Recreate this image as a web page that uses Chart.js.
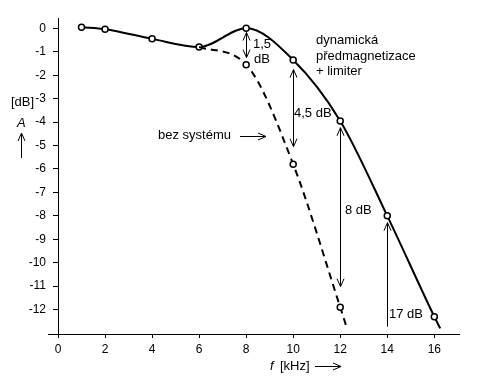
<!DOCTYPE html>
<html>
<head>
<meta charset="utf-8">
<script src="https://cdn.jsdelivr.net/npm/chart.js@4/dist/chart.umd.min.js"></script>
<style>
  body { margin: 0; background: #fff; }
  #wrap { width: 477px; height: 385px; }
</style>
</head>
<body>
<div id="wrap"><canvas id="chart" width="477" height="385"></canvas></div>
<script>
// frequencies in kHz, levels in dB
const solidFreq = [1, 2, 4, 6, 8, 10, 12, 14, 16, 16.25];
const solidLevel = [0.05, -0.04, -0.45, -0.8, 0, -1.35, -3.95, -8, -12.3, -12.8];
const dashedFreq = [6, 8, 10, 12, 12.27];
const dashedLevel = [-0.8, -1.55, -5.8, -11.9, -12.75];
// last entry of each curve is only the tail of the line, no marker
const solidMarkers = [1, 1, 1, 1, 1, 1, 1, 1, 1, 0];
const dashedMarkers = [0, 1, 1, 1, 0];

const xTicks = [0, 2, 4, 6, 8, 10, 12, 14, 16];
const yTicks = [0, -1, -2, -3, -4, -5, -6, -7, -8, -9, -10, -11, -12];

// difference arrows: [kHz, from dB, to dB, head at from, head at to]
const diffArrows = [
    [8, -0.18, -1.25, true, true],
    [10, -1.76, -5.05, true, true],
    [12, -4.24, -11.02, true, true],
    [14, -12.73, -8.29, false, true]
];

const FONT = '13px "Liberation Sans", Arial, sans-serif';

function arrowHead(ctx, x, y, dx, dy) {
    // open chevron pointing along (dx, dy)
    const len = 8, w = 3.5;
    ctx.beginPath();
    ctx.moveTo(x - dx * len - dy * w, y - dy * len + dx * w);
    ctx.lineTo(x, y);
    ctx.lineTo(x - dx * len + dy * w, y - dy * len - dx * w);
    ctx.stroke();
}

function arrow(ctx, x1, y1, x2, y2, headStart, headEnd) {
    ctx.beginPath();
    ctx.moveTo(x1, y1);
    ctx.lineTo(x2, y2);
    ctx.stroke();
    const d = Math.hypot(x2 - x1, y2 - y1);
    const dx = (x2 - x1) / d, dy = (y2 - y1) / d;
    if (headEnd) arrowHead(ctx, x2, y2, dx, dy);
    if (headStart) arrowHead(ctx, x1, y1, -dx, -dy);
}

const notes = {
    id: 'notes',
    afterDraw(chart) {
        const ctx = chart.ctx;
        const xs = chart.scales.x, ys = chart.scales.y;
        const area = chart.chartArea;
        ctx.save();
        ctx.strokeStyle = '#000';
        ctx.fillStyle = '#000';
        ctx.lineWidth = 1;

        // x axis line runs a bit left of the y axis
        ctx.beginPath();
        ctx.moveTo(48, Math.round(area.bottom) + 0.5);
        ctx.lineTo(area.left, Math.round(area.bottom) + 0.5);
        ctx.stroke();

        diffArrows.forEach(a => {
            const px = Math.round(xs.getPixelForValue(a[0])) + 0.5;
            arrow(ctx, px, ys.getPixelForValue(a[1]), px, ys.getPixelForValue(a[2]), a[3], a[4]);
        });

        ctx.font = FONT;
        ctx.textBaseline = 'alphabetic';
        ctx.textAlign = 'left';
        ctx.fillText('dynamická', 316, 44);
        ctx.fillText('předmagnetizace', 316, 60);
        ctx.fillText('+ limiter', 316, 75);
        ctx.fillText('1,5', 253, 48);
        ctx.fillText('dB', 254, 63);
        ctx.fillText('4,5 dB', 294, 117);
        ctx.fillText('8 dB', 345, 214);
        ctx.fillText('17 dB', 389, 318);
        ctx.fillText('bez systému', 158, 139);
        arrow(ctx, 240, 136.5, 266, 136.5, false, true);

        // axis titles
        ctx.fillText('[dB]', 11, 106);
        ctx.font = 'italic ' + FONT;
        ctx.fillText('A', 17, 127);
        ctx.fillText('f', 270, 370);
        ctx.font = FONT;
        ctx.fillText('[kHz]', 280, 370);
        arrow(ctx, 21.5, 158, 21.5, 133, false, true);
        arrow(ctx, 315, 366.5, 341, 366.5, false, true);
        ctx.restore();
    }
};

const solidData = solidFreq.map((f, i) => ({ x: f, y: solidLevel[i] }));
const dashedData = dashedFreq.map((f, i) => ({ x: f, y: dashedLevel[i] }));

const ctx = document.getElementById('chart').getContext('2d');
const chartInstance = new Chart(ctx, {
    type: 'line',
    data: {
        datasets: [{
            label: 'bez systému',
            data: dashedData,
            borderColor: '#000',
            borderWidth: 2,
            borderDash: [7, 5],
            cubicInterpolationMode: 'monotone',
            pointRadius: dashedMarkers.map(m => m ? 3 : 0),
            pointBorderWidth: 1.5,
            pointBorderColor: '#000',
            pointBackgroundColor: '#fff'
        }, {
            label: 'dynamická předmagnetizace + limiter',
            data: solidData,
            borderColor: '#000',
            borderWidth: 2,
            cubicInterpolationMode: 'monotone',
            pointRadius: solidMarkers.map(m => m ? 3 : 0),
            pointBorderWidth: 1.5,
            pointBorderColor: '#000',
            pointBackgroundColor: '#fff'
        }]
    },
    options: {
        responsive: false,
        animation: false,
        events: [],
        layout: { padding: { top: 18, right: 18, left: 0, bottom: 0 } },
        plugins: { legend: { display: false }, tooltip: { enabled: false } },
        scales: {
            x: {
                type: 'linear',
                min: 0,
                max: 17.05,
                afterBuildTicks: s => { s.ticks = xTicks.map(v => ({ value: v })); },
                afterFit: s => { s.height = 51; },
                grid: { drawOnChartArea: false, tickLength: 4, color: '#000' },
                border: { color: '#000', width: 1 },
                ticks: {
                    color: '#000',
                    padding: 4,
                    maxRotation: 0,
                    font: { family: '"Liberation Sans", Arial, sans-serif', size: 12 }
                }
            },
            y: {
                type: 'linear',
                min: -13.04,
                max: 0.44,
                afterBuildTicks: s => { s.ticks = yTicks.map(v => ({ value: v })); },
                afterFit: s => { s.width = 58; },
                grid: { drawOnChartArea: false, tickLength: 5, color: '#000' },
                border: { color: '#000', width: 1 },
                ticks: {
                    color: '#000',
                    padding: 7,
                    font: { family: '"Liberation Sans", Arial, sans-serif', size: 12 }
                }
            }
        }
    },
    plugins: [notes]
});
</script>
</body>
</html>
